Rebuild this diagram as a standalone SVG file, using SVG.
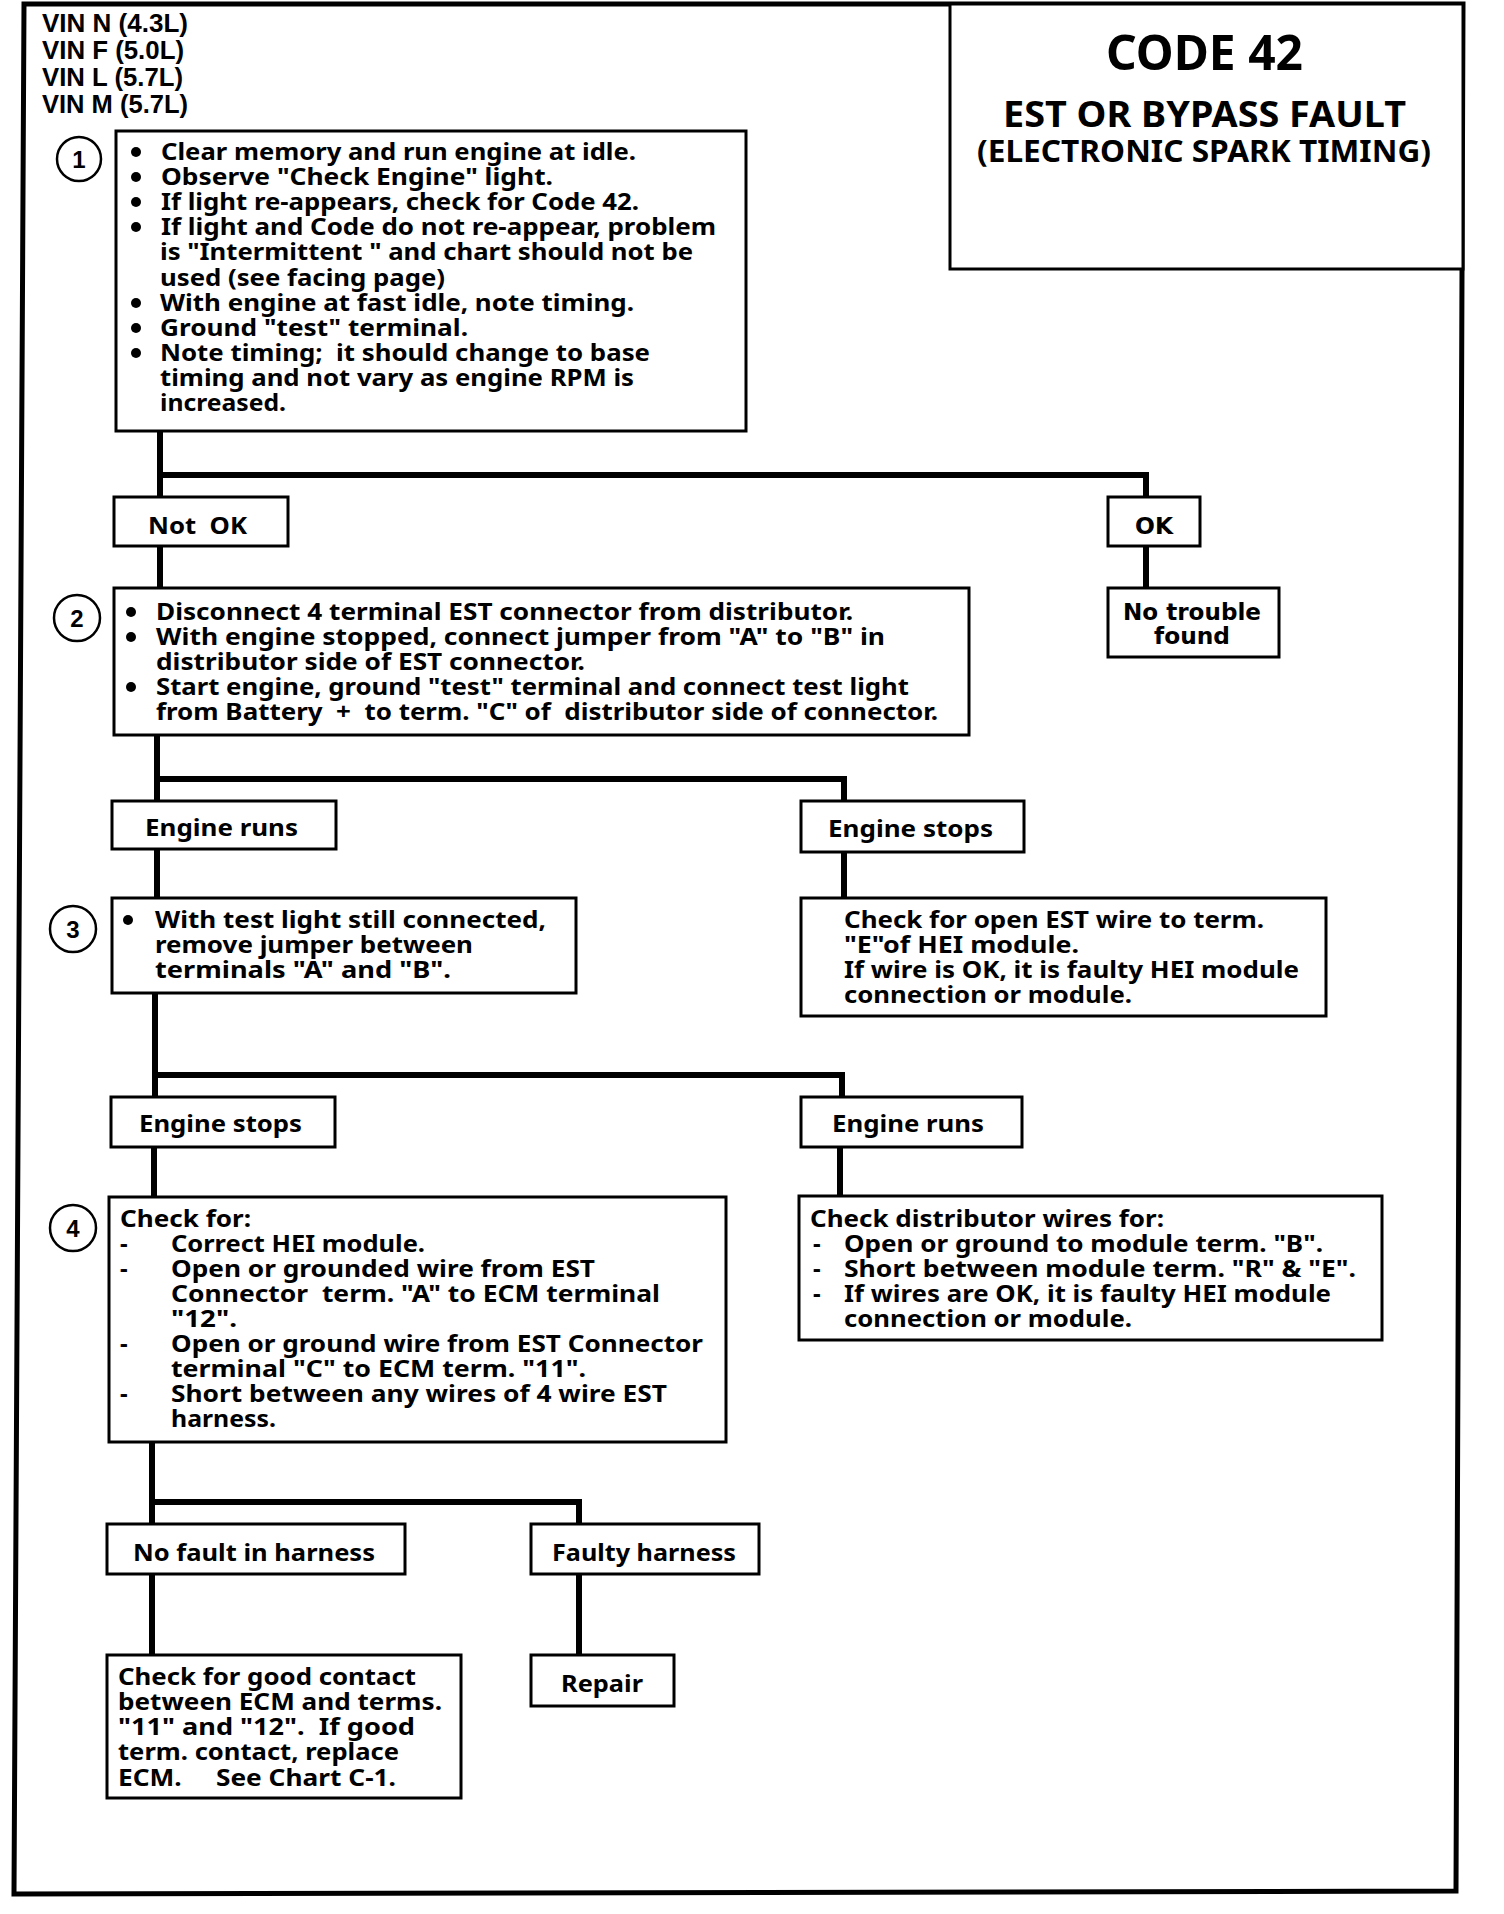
<svg xmlns="http://www.w3.org/2000/svg" width="1504" height="1914" viewBox="0 0 1504 1914" xml:space="preserve">
<style>
.bg{fill:#fff}
.frame{fill:none;stroke:#000;stroke-width:5;stroke-linejoin:miter}
.box{fill:#fff;stroke:#000;stroke-width:3}
.circ{fill:#fff;stroke:#000;stroke-width:2.5}
.con{fill:none;stroke:#000;stroke-width:6;stroke-linecap:square}
.t{font-family:"Noto Sans","DejaVu Sans",sans-serif;font-weight:bold;font-size:24px;fill:#000;white-space:pre}
.v{font-family:"Liberation Sans",Arial,sans-serif;font-weight:bold;font-size:26px;fill:#000;white-space:pre}
.w{font-family:"DejaVu Sans",sans-serif;font-weight:bold;font-size:23px;fill:#000;white-space:pre}
.num{font-family:"Liberation Sans",Arial,sans-serif;font-weight:bold;font-size:24px;fill:#000;text-anchor:middle}
.bul{fill:#000}
</style>
<rect class="bg" x="0" y="0" width="1504" height="1914"/>
<polygon class="frame" points="24,4 1463,4 1456,1891 14,1894"/>

<g id="title">
<rect class="box" x="950" y="4" width="513" height="265"/>
<text class="t" x="1106" y="70" style="font-size:49px" textLength="197" lengthAdjust="spacingAndGlyphs">CODE 42</text>
<text class="t" x="1003" y="127" style="font-size:35px" textLength="403" lengthAdjust="spacingAndGlyphs">EST OR BYPASS FAULT</text>
<text class="t" x="977" y="162" style="font-size:30px" textLength="454" lengthAdjust="spacingAndGlyphs">(ELECTRONIC SPARK TIMING)</text>
</g>

<g id="vin">
<text class="v" x="42" y="32" textLength="146" lengthAdjust="spacingAndGlyphs">VIN N (4.3L)</text>
<text class="v" x="42" y="59" textLength="142" lengthAdjust="spacingAndGlyphs">VIN F (5.0L)</text>
<text class="v" x="42" y="86" textLength="141" lengthAdjust="spacingAndGlyphs">VIN L (5.7L)</text>
<text class="v" x="42" y="113" textLength="146" lengthAdjust="spacingAndGlyphs">VIN M (5.7L)</text>
</g>

<g id="connectors">
<path class="con" d="M160,431 V475 M160,475 H1146 M1146,475 V497 M160,475 V497"/>
<path class="con" d="M160,546 V588"/>
<path class="con" d="M1146,546 V588"/>
<path class="con" d="M157,735 V779 M157,779 H844 M844,779 V801 M157,779 V801"/>
<path class="con" d="M157,849 V898"/>
<path class="con" d="M844,852 V898"/>
<path class="con" d="M155,993 V1075 M155,1075 H842 M842,1075 V1097 M155,1075 V1097"/>
<path class="con" d="M154,1147 V1197"/>
<path class="con" d="M840,1147 V1196"/>
<path class="con" d="M152,1442 V1502 M152,1502 H579 M579,1502 V1524 M152,1502 V1524"/>
<path class="con" d="M152,1574 V1655"/>
<path class="con" d="M579,1574 V1655"/>
</g>

<g id="step1">
<circle class="circ" cx="79" cy="159" r="22"/>
<text class="num" x="79" y="168">1</text>
<rect class="box" x="116" y="131" width="630" height="300"/>
<circle class="bul" cx="136" cy="152" r="5"/>
<circle class="bul" cx="136" cy="177" r="5"/>
<circle class="bul" cx="136" cy="202" r="5"/>
<circle class="bul" cx="136" cy="227" r="5"/>
<circle class="bul" cx="136" cy="303" r="5"/>
<circle class="bul" cx="136" cy="328" r="5"/>
<circle class="bul" cx="136" cy="353" r="5"/>
<text class="t" x="161" y="160" textLength="475" lengthAdjust="spacingAndGlyphs">Clear memory and run engine at idle.</text>
<text class="t" x="161" y="185" textLength="392" lengthAdjust="spacingAndGlyphs">Observe "Check Engine" light.</text>
<text class="t" x="161" y="210" textLength="478" lengthAdjust="spacingAndGlyphs">If light re-appears, check for Code 42.</text>
<text class="t" x="161" y="235" textLength="555" lengthAdjust="spacingAndGlyphs">If light and Code do not re-appear, problem</text>
<text class="t" x="160" y="260" textLength="533" lengthAdjust="spacingAndGlyphs">is "Intermittent " and chart should not be</text>
<text class="t" x="160" y="286" textLength="285" lengthAdjust="spacingAndGlyphs">used (see facing page)</text>
<text class="t" x="160" y="311" textLength="474" lengthAdjust="spacingAndGlyphs">With engine at fast idle, note timing.</text>
<text class="t" x="160" y="336" textLength="308" lengthAdjust="spacingAndGlyphs">Ground "test" terminal.</text>
<text class="t" x="160" y="361" textLength="490" lengthAdjust="spacingAndGlyphs">Note timing;  it should change to base</text>
<text class="t" x="160" y="386" textLength="474" lengthAdjust="spacingAndGlyphs">timing and not vary as engine RPM is</text>
<text class="t" x="160" y="411" textLength="126" lengthAdjust="spacingAndGlyphs">increased.</text>
</g>

<g id="notok">
<rect class="box" x="114" y="497" width="174" height="49"/>
<text class="t" x="148" y="534" textLength="99" lengthAdjust="spacingAndGlyphs">Not  OK</text>
</g>

<g id="ok">
<rect class="box" x="1108" y="497" width="92" height="49"/>
<text class="w" x="1135" y="534" textLength="38" lengthAdjust="spacingAndGlyphs">OK</text>
</g>

<g id="notrouble">
<rect class="box" x="1108" y="588" width="171" height="69"/>
<text class="w" x="1123" y="620" textLength="138" lengthAdjust="spacingAndGlyphs">No trouble</text>
<text class="w" x="1154" y="644" textLength="76" lengthAdjust="spacingAndGlyphs">found</text>
</g>

<g id="step2">
<circle class="circ" cx="77" cy="618" r="23"/>
<text class="num" x="77" y="627">2</text>
<rect class="box" x="114" y="588" width="855" height="147"/>
<circle class="bul" cx="131" cy="612" r="5"/>
<circle class="bul" cx="131" cy="637" r="5"/>
<circle class="bul" cx="131" cy="687" r="5"/>
<text class="t" x="156" y="620" textLength="697" lengthAdjust="spacingAndGlyphs">Disconnect 4 terminal EST connector from distributor.</text>
<text class="t" x="156" y="645" textLength="729" lengthAdjust="spacingAndGlyphs">With engine stopped, connect jumper from "A" to "B" in</text>
<text class="t" x="156" y="670" textLength="429" lengthAdjust="spacingAndGlyphs">distributor side of EST connector.</text>
<text class="t" x="156" y="695" textLength="753" lengthAdjust="spacingAndGlyphs">Start engine, ground "test" terminal and connect test light</text>
<text class="t" x="156" y="720" textLength="782" lengthAdjust="spacingAndGlyphs">from Battery  +  to term. "C" of  distributor side of connector.</text>
</g>

<g id="engruns1">
<rect class="box" x="112" y="801" width="224" height="48"/>
<text class="t" x="145" y="836" textLength="153" lengthAdjust="spacingAndGlyphs">Engine runs</text>
</g>

<g id="engstops1">
<rect class="box" x="801" y="801" width="223" height="51"/>
<text class="t" x="828" y="837" textLength="165" lengthAdjust="spacingAndGlyphs">Engine stops</text>
</g>

<g id="step3">
<circle class="circ" cx="73" cy="929" r="23"/>
<text class="num" x="73" y="938">3</text>
<rect class="box" x="112" y="898" width="464" height="95"/>
<circle class="bul" cx="128" cy="920" r="5"/>
<text class="t" x="155" y="928" textLength="391" lengthAdjust="spacingAndGlyphs">With test light still connected,</text>
<text class="t" x="155" y="953" textLength="318" lengthAdjust="spacingAndGlyphs">remove jumper between</text>
<text class="t" x="155" y="978" textLength="296" lengthAdjust="spacingAndGlyphs">terminals "A" and "B".</text>
</g>

<g id="checkopen">
<rect class="box" x="801" y="898" width="525" height="118"/>
<text class="t" x="844" y="928" textLength="420" lengthAdjust="spacingAndGlyphs">Check for open EST wire to term.</text>
<text class="t" x="844" y="953" textLength="235" lengthAdjust="spacingAndGlyphs">"E"of HEI module.</text>
<text class="t" x="844" y="978" textLength="455" lengthAdjust="spacingAndGlyphs">If wire is OK, it is faulty HEI module</text>
<text class="t" x="844" y="1003" textLength="288" lengthAdjust="spacingAndGlyphs">connection or module.</text>
</g>

<g id="engstops2">
<rect class="box" x="111" y="1097" width="224" height="50"/>
<text class="t" x="139" y="1132" textLength="163" lengthAdjust="spacingAndGlyphs">Engine stops</text>
</g>

<g id="engruns2">
<rect class="box" x="801" y="1097" width="221" height="50"/>
<text class="t" x="832" y="1132" textLength="152" lengthAdjust="spacingAndGlyphs">Engine runs</text>
</g>

<g id="step4">
<circle class="circ" cx="73" cy="1228" r="23"/>
<text class="num" x="73" y="1237">4</text>
<rect class="box" x="109" y="1197" width="617" height="245"/>
<text class="t" x="120" y="1227" textLength="131" lengthAdjust="spacingAndGlyphs">Check for:</text>
<text class="t" x="120" y="1252">-</text>
<text class="t" x="120" y="1277">-</text>
<text class="t" x="120" y="1352">-</text>
<text class="t" x="120" y="1402">-</text>
<text class="t" x="171" y="1252" textLength="254" lengthAdjust="spacingAndGlyphs">Correct HEI module.</text>
<text class="t" x="171" y="1277" textLength="424" lengthAdjust="spacingAndGlyphs">Open or grounded wire from EST</text>
<text class="t" x="171" y="1302" textLength="489" lengthAdjust="spacingAndGlyphs">Connector  term. "A" to ECM terminal</text>
<text class="t" x="171" y="1327" textLength="66" lengthAdjust="spacingAndGlyphs">"12".</text>
<text class="t" x="171" y="1352" textLength="532" lengthAdjust="spacingAndGlyphs">Open or ground wire from EST Connector</text>
<text class="t" x="171" y="1377" textLength="415" lengthAdjust="spacingAndGlyphs">terminal "C" to ECM term. "11".</text>
<text class="t" x="171" y="1402" textLength="496" lengthAdjust="spacingAndGlyphs">Short between any wires of 4 wire EST</text>
<text class="t" x="171" y="1427" textLength="105" lengthAdjust="spacingAndGlyphs">harness.</text>
</g>

<g id="checkdist">
<rect class="box" x="799" y="1196" width="583" height="144"/>
<text class="t" x="810" y="1227" textLength="354" lengthAdjust="spacingAndGlyphs">Check distributor wires for:</text>
<text class="t" x="813" y="1252">-</text>
<text class="t" x="813" y="1277">-</text>
<text class="t" x="813" y="1302">-</text>
<text class="t" x="844" y="1252" textLength="479" lengthAdjust="spacingAndGlyphs">Open or ground to module term. "B".</text>
<text class="t" x="844" y="1277" textLength="512" lengthAdjust="spacingAndGlyphs">Short between module term. "R" &amp; "E".</text>
<text class="t" x="844" y="1302" textLength="487" lengthAdjust="spacingAndGlyphs">If wires are OK, it is faulty HEI module</text>
<text class="t" x="844" y="1327" textLength="288" lengthAdjust="spacingAndGlyphs">connection or module.</text>
</g>

<g id="nofault">
<rect class="box" x="107" y="1524" width="298" height="50"/>
<text class="t" x="133" y="1561" textLength="242" lengthAdjust="spacingAndGlyphs">No fault in harness</text>
</g>

<g id="faulty">
<rect class="box" x="531" y="1524" width="228" height="50"/>
<text class="t" x="552" y="1561" textLength="184" lengthAdjust="spacingAndGlyphs">Faulty harness</text>
</g>

<g id="checkcontact">
<rect class="box" x="107" y="1655" width="354" height="143"/>
<text class="t" x="118" y="1685" textLength="298" lengthAdjust="spacingAndGlyphs">Check for good contact</text>
<text class="t" x="118" y="1710" textLength="324" lengthAdjust="spacingAndGlyphs">between ECM and terms.</text>
<text class="t" x="118" y="1735" textLength="297" lengthAdjust="spacingAndGlyphs">"11" and "12".  If good</text>
<text class="t" x="118" y="1760" textLength="281" lengthAdjust="spacingAndGlyphs">term. contact, replace</text>
<text class="t" x="118" y="1786" textLength="278" lengthAdjust="spacingAndGlyphs">ECM.     See Chart C-1.</text>
</g>

<g id="repair">
<rect class="box" x="531" y="1655" width="143" height="51"/>
<text class="t" x="561" y="1692" textLength="82" lengthAdjust="spacingAndGlyphs">Repair</text>
</g>
</svg>
